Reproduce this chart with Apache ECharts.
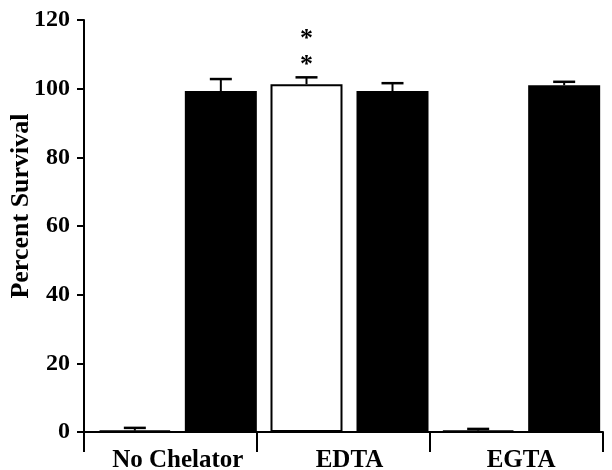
<!DOCTYPE html>
<html><head><meta charset="utf-8">
<script src="https://cdn.jsdelivr.net/npm/echarts@6/dist/echarts.min.js"></script>
<style>html,body{margin:0;padding:0;background:#fff}#c{width:612px;height:470px}</style>
</head><body><div id="c"></div>
<script>
var categories = ['No Chelator', 'EDTA', 'EGTA'];
var whiteValues = [0.4, 101.3, 0.4];
var whiteErrors = [0.8, 2.0, 0.5];
var blackValues = [99.3, 99.3, 101.0];
var blackErrors = [3.5, 2.3, 1.0];
var significance = ['', '*\n*', ''];
var yTicks = [0, 20, 40, 60, 80, 100, 120];

var font = '"Liberation Serif", "Times New Roman", serif';
var BAR_W = 72, GAP_PX = 14;
var off = (BAR_W + GAP_PX) / 2;

function errSeries(vals, errs, dx) {
  return {
    type: 'custom', z: 5, xAxisIndex: 1, yAxisIndex: 1,
    data: vals.map(function (v, i) { return [i, v, v + errs[i]]; }),
    renderItem: function (params, api) {
      var base = api.coord([api.value(0), api.value(1)]);
      var top = api.coord([api.value(0), api.value(2)]);
      var x = base[0] + dx;
      var cap = 11;
      return {
        type: 'group',
        children: [
          { type: 'line', shape: { x1: x, y1: base[1], x2: x, y2: top[1] }, style: { stroke: '#000', lineWidth: 2 } },
          { type: 'line', shape: { x1: x - cap, y1: top[1], x2: x + cap, y2: top[1] }, style: { stroke: '#000', lineWidth: 2.5 } }
        ]
      };
    }
  };
}

var chart = echarts.init(document.getElementById('c'), null, { renderer: 'canvas' });
chart.setOption({
  animation: false,
  grid: [
    { left: 84, right: 9, top: 20, bottom: 38, outerBoundsMode: 'none', containLabel: false },
    { left: 92, right: 5, top: 20, bottom: 38, outerBoundsMode: 'none', containLabel: false }
  ],
  xAxis: [{
    type: 'category', data: categories, gridIndex: 0,
    axisLine: { lineStyle: { color: '#000', width: 2 } },
    axisTick: { show: true, length: 20, inside: false, alignWithLabel: false, lineStyle: { color: '#000', width: 2 } },
    axisLabel: { show: false }
  }, {
    type: 'category', data: categories, gridIndex: 1,
    axisLine: { show: false }, axisTick: { show: false },
    axisLabel: { color: '#000', fontFamily: font, fontWeight: 'bold', fontSize: 25, margin: 16 }
  }],
  yAxis: [{
    type: 'value', min: 0, max: 120, interval: 20, gridIndex: 0,
    name: 'Percent Survival', nameLocation: 'middle', nameGap: 50, nameMoveOverlap: false,
    nameTextStyle: { color: '#000', fontFamily: font, fontWeight: 'bold', fontSize: 26, padding: [0, 0, 0, 40] },
    axisLine: { show: true, lineStyle: { color: '#000', width: 2 } },
    axisTick: { show: true, length: 7, lineStyle: { color: '#000', width: 2 } },
    splitLine: { show: false },
    axisLabel: { color: '#000', fontFamily: font, fontWeight: 'bold', fontSize: 24, margin: 14,
      formatter: function (v) { return yTicks.indexOf(v) >= 0 ? String(v) : ''; } }
  }, {
    type: 'value', min: 0, max: 120, interval: 20, gridIndex: 1, show: false, splitLine: { show: false }
  }],
  series: [
    {
      type: 'bar', xAxisIndex: 1, yAxisIndex: 1, barWidth: BAR_W, barGap: (GAP_PX / BAR_W * 100) + '%',
      data: whiteValues.map(function (v, i) {
        return {
          value: v,
          label: {
            show: significance[i] !== '', position: 'top', distance: 6,
            formatter: significance[i], color: '#000', fontFamily: font,
            fontWeight: 'bold', fontSize: 26, lineHeight: 26
          }
        };
      }),
      itemStyle: { color: '#fff', borderColor: '#000', borderWidth: 2 }
    },
    {
      type: 'bar', xAxisIndex: 1, yAxisIndex: 1, barWidth: BAR_W,
      data: blackValues,
      itemStyle: { color: '#000', borderColor: '#000', borderWidth: 0 }
    },
    errSeries(whiteValues, whiteErrors, -off),
    errSeries(blackValues, blackErrors, off)
  ]
});
</script></body></html>
